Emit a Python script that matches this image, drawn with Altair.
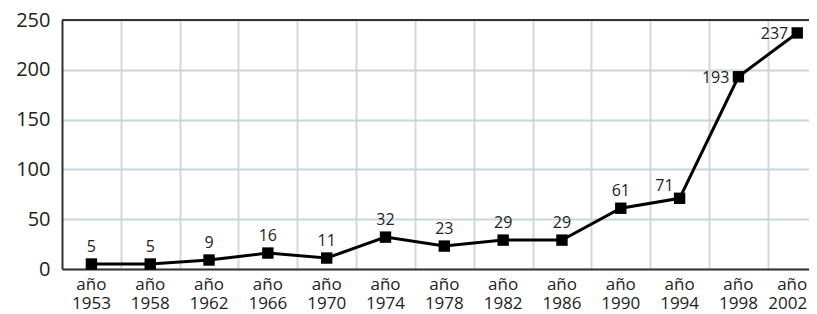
import altair as alt
import pandas as pd

years = [1953, 1958, 1962, 1966, 1970, 1974, 1978, 1982, 1986, 1990, 1994, 1998, 2002]
values = [5, 5, 9, 16, 11, 32, 23, 29, 29, 61, 71, 193, 237]
prefix = "año"
y_ticks = [0, 50, 100, 150, 200, 250]

df = pd.DataFrame({"i": list(range(len(years))), "year": years, "value": values})
df["label"] = prefix + "\n" + df["year"].astype(str)

W, H = 747, 249
FONT = "Open Sans"
xscale = alt.Scale(domain=[-0.5, 12.2], nice=False, zero=False)
yscale = alt.Scale(domain=[0, 250], nice=False)
x_grid = [i + 0.5 for i in range(len(years) - 1)]
last_year = years[-1]

base = alt.Chart(df)

line = base.mark_line(color="black", strokeWidth=3).encode(
    x=alt.X("i:Q", scale=xscale,
            axis=alt.Axis(values=x_grid, grid=True, labels=False, ticks=False, title=None,
                          domainColor="#333333", domainWidth=2,
                          gridColor="#d6d6d6", gridWidth=2)),
    y=alt.Y("value:Q", scale=yscale,
            axis=alt.Axis(values=y_ticks, grid=True, gridColor="#c8d5dc", gridWidth=2,
                          ticks=False, labelPadding=12, labelFontSize=20, labelFont=FONT,
                          labelColor="#222222", domainColor="#333333", domainWidth=2,
                          title=None)),
)

top_rule = alt.Chart(pd.DataFrame({"v": [250]})).mark_rule(color="#333333", strokeWidth=2).encode(
    y=alt.Y("v:Q", scale=yscale)
)

points = base.mark_square(size=130, color="black", opacity=1).encode(
    x=alt.X("i:Q", scale=xscale), y=alt.Y("value:Q", scale=yscale)
)

lab_above = base.transform_filter("datum.year < 1994").mark_text(
    fontSize=16, font=FONT, color="#222222", baseline="alphabetic", dy=-12
).encode(x=alt.X("i:Q", scale=xscale), y=alt.Y("value:Q", scale=yscale), text="value:Q")

lab_upleft = base.transform_filter("datum.year == 1994").mark_text(
    fontSize=16, font=FONT, color="#222222", baseline="alphabetic", align="right", dx=-6, dy=-7
).encode(x=alt.X("i:Q", scale=xscale), y=alt.Y("value:Q", scale=yscale), text="value:Q")

lab_left = base.transform_filter("datum.year >= 1998").mark_text(
    fontSize=16, font=FONT, color="#222222", baseline="middle", align="right", dx=-9, dy=1
).encode(x=alt.X("i:Q", scale=xscale), y=alt.Y("value:Q", scale=yscale), text="value:Q")

xlab_style = dict(fontSize=17, font=FONT, color="#222222", baseline="alphabetic",
                  lineBreak="\n", lineHeight=19)
xlabels = base.transform_filter(f"datum.year < {last_year}").mark_text(**xlab_style).encode(
    x=alt.X("i:Q", scale=xscale), y=alt.value(H + 21), text="label:N")
xlabel_last = base.transform_filter(f"datum.year == {last_year}").mark_text(
    align="right", dx=10, **xlab_style
).encode(x=alt.X("i:Q", scale=xscale), y=alt.value(H + 21), text="label:N")

chart = alt.layer(line, top_rule, points, lab_above, lab_upleft, lab_left,
                  xlabels, xlabel_last).properties(
    width=W, height=H,
    autosize=alt.AutoSizeParams(type="none"),
    padding={"left": 54, "top": 12, "right": 0, "bottom": 45},
).configure_view(stroke=None)

chart.save("out.html", embed_options={"renderer": "svg", "actions": False})
